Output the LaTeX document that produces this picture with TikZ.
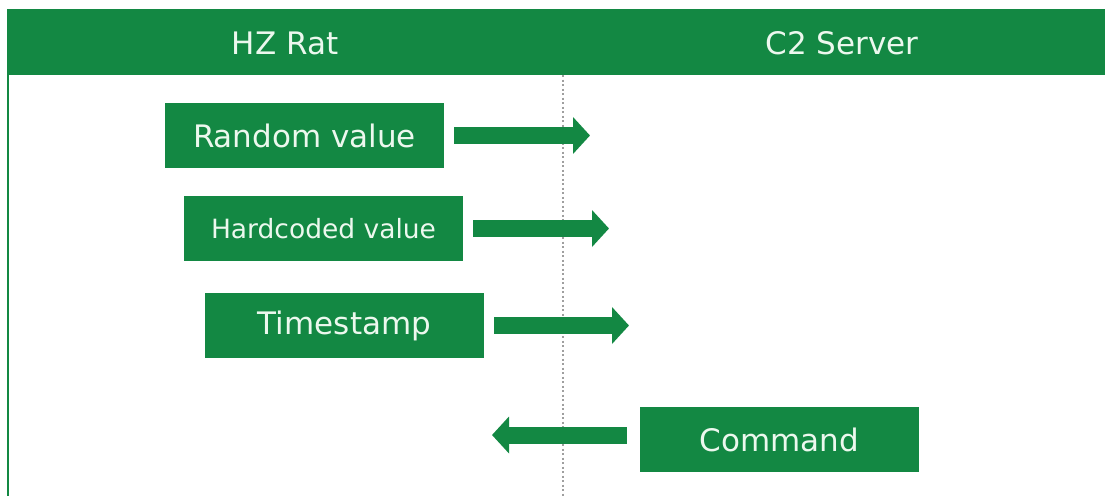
\documentclass[tikz,border=0pt]{standalone}
\usepackage{fontspec}
\setmainfont{DejaVu Sans}
\usepackage{xcolor}
\usetikzlibrary{arrows.meta}

\definecolor{hzgreen}{RGB}{19,136,67}
\definecolor{hzwhite}{RGB}{236,248,238}

\tikzset{
    msgbox/.style={rectangle, fill=hzgreen, text=hzwhite, minimum width=279pt, minimum height=65pt, inner sep=0pt, font=\fontsize{31}{36}\selectfont},
    lanehead/.style={text=hzwhite, inner sep=0pt, font=\fontsize{31}{36}\selectfont},
    flow/.style={draw=hzgreen, line width=17pt, -{Triangle[length=17pt, width=36pt]}},
}

\begin{document}
\begin{tikzpicture}[x=1pt, y=-1pt]
        \useasboundingbox (0,0) rectangle (1105,496);
        % lanes
        \fill[hzgreen] (8,9) rectangle (1105,75);
        \draw[hzgreen, line width=2pt] (8,9) -- (8,496);
        \draw[gray!75, line width=1.2pt, dash pattern=on 2pt off 2.5pt] (563,75) -- (563,496);
        \node[lanehead] (rat) at (285,43) {HZ Rat};
        \node[lanehead] (srv) at (842,43) {C2 Server};

        % messages
        \node[msgbox] (rnd) at (304.5,135.5) {Random value};
        \node[msgbox, font=\fontsize{26.5}{31}\selectfont] (hard) at (323.5,228.5) {Hardcoded value};
        \node[msgbox] (ts) at (344.5,325.5) {Timestamp};
        \node[msgbox] (cmd) at (779.5,439.5) {Command};

        \coordinate (rndTip) at (590,135.5);
        \coordinate (hardTip) at (609,228.5);
        \coordinate (tsTip) at (629,325.5);
        \coordinate (cmdTip) at (492,435);

        \draw[flow] ([xshift=10pt]rnd.east) -- (rndTip);
        \draw[flow] ([xshift=10pt]hard.east) -- (hardTip);
        \draw[flow] ([xshift=10pt]ts.east) -- (tsTip);
        \draw[flow] ([xshift=-13pt, yshift=4.5pt]cmd.west) -- (cmdTip);
\end{tikzpicture}
\end{document}
